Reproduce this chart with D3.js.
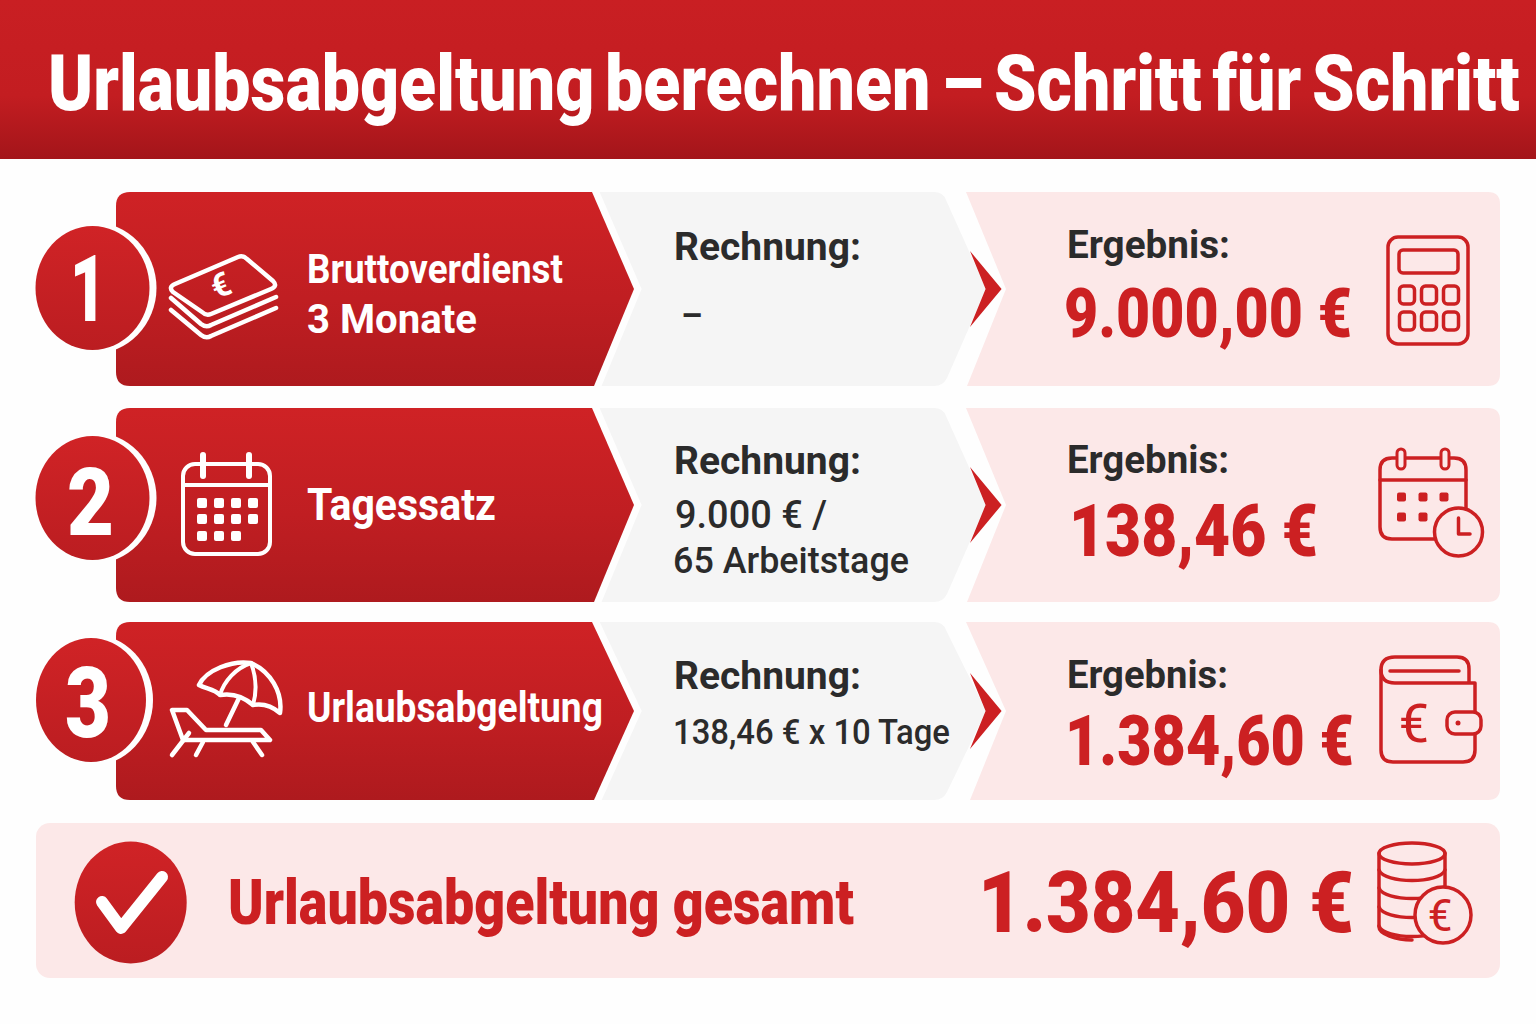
<!DOCTYPE html>
<html lang="de">
<head>
<meta charset="utf-8">
<title>Urlaubsabgeltung berechnen</title>
<script src="https://cdn.jsdelivr.net/npm/d3@7/dist/d3.min.js"></script>
<style>
html, body { margin: 0; padding: 0; background: #fefefe; }
svg { display: block; }
text { font-family: Roboto, "Liberation Sans", sans-serif; }
</style>
</head>
<body>
<div id="chart"></div>
<script>
// content
var titleText = "Urlaubsabgeltung berechnen – Schritt für Schritt";
var stepNumbers = ["1", "2", "3"];
var stepLabels = [["Bruttoverdienst", "3 Monate"], ["Tagessatz"], ["Urlaubsabgeltung"]];
var calcHeading = "Rechnung:";
var calcLines = [["–"], ["9.000 € /", "65 Arbeitstage"], ["138,46 € x 10 Tage"]];
var resultHeading = "Ergebnis:";
var resultValues = ["9.000,00 €", "138,46 €", "1.384,60 €"];
var totalLabel = "Urlaubsabgeltung gesamt";
var totalValue = "1.384,60 €";

// layout
var width = 1536, height = 1024;
var red = "#cc2022", dark = "#2b2b2b", pink = "#fce8e8", grey = "#f5f5f5";
var rowTop = d3.scaleOrdinal(stepNumbers, [192, 408, 622]);
var rowBottom = d3.scaleOrdinal(stepNumbers, [386, 602, 800]);

var badges = [
    { cx: 92.5, cy: 288, rx: 57, ry: 62, x: 70, w: 36, base: 321, size: 92 },
    { cx: 92.5, cy: 498, rx: 57, ry: 62, x: 67, w: 47, base: 535, size: 94 },
    { cx: 91, cy: 700, rx: 55, ry: 62, x: 65, w: 46, base: 737, size: 98 }
];
var labelPos = [
    [{ x: 307, w: 256, base: 283, size: 40 }, { x: 307, w: 170, base: 333, size: 41 }],
    [{ x: 307, w: 189, base: 520, size: 45 }],
    [{ x: 307, w: 296, base: 722, size: 42 }]
];
var calcHeadPos = [260, 474, 689];
var calcPos = [
    [{ x: 681, w: 22, base: 329, size: 40 }],
    [{ x: 675, w: 152, base: 528, size: 38 }, { x: 673, w: 236, base: 573, size: 36 }],
    [{ x: 673, w: 277, base: 744, size: 35 }]
];
var resultHeadPos = [{ w: 163, base: 258 }, { w: 162, base: 473 }, { w: 161, base: 688 }];
var valuePos = [
    { x: 1064, w: 288, base: 337, size: 69 },
    { x: 1069, w: 249, base: 556, size: 72 },
    { x: 1065, w: 289, base: 765, size: 70 }
];

var svg = d3.select("#chart").append("svg")
    .attr("width", width)
    .attr("height", height)
    .attr("viewBox", "0 0 " + width + " " + height);

var defs = svg.append("defs");

function addGradient(id, stops) {
    var g = defs.append("linearGradient")
        .attr("id", id)
        .attr("x1", 0).attr("y1", 0).attr("x2", 0).attr("y2", 1);
    stops.forEach(function (s) {
        g.append("stop").attr("offset", s[0]).attr("stop-color", s[1]);
    });
}

addGradient("headGrad", [[0, "#c91f23"], [0.6, "#c31d21"], [1, "#a3151a"]]);
addGradient("bandGrad", [[0, "#cf2225"], [0.55, "#c01e22"], [1, "#ae1a1e"]]);
addGradient("badgeGrad", [[0, "#d02326"], [1, "#bb1d21"]]);

// text squeezed to the measured width, the original face is narrower than Roboto
function fitText(parent, str, x, base, w, size, fill, weight, wordGap) {
    var t = parent.append("text")
        .attr("font-size", size)
        .attr("font-weight", weight || 700)
        .attr("fill", fill)
        .attr("word-spacing", wordGap || 0)
        .text(str);
    var natural = t.node().getComputedTextLength();
    t.attr("transform", "translate(" + x + "," + base + ") scale(" + (w / natural) + ",1)");
    return t;
}

function line(g, pts, sw, color, closed) {
    return g.append("path")
        .attr("d", "M" + pts.map(function (p) { return p.join(","); }).join("L") + (closed ? "Z" : ""))
        .attr("fill", "none")
        .attr("stroke", color)
        .attr("stroke-width", sw)
        .attr("stroke-linejoin", "round")
        .attr("stroke-linecap", "round");
}

function outlinePath(g, d, sw, color, fill) {
    return g.append("path")
        .attr("d", d)
        .attr("fill", fill || "none")
        .attr("stroke", color)
        .attr("stroke-width", sw)
        .attr("stroke-linejoin", "round")
        .attr("stroke-linecap", "round");
}

function box(g, x, y, w, h, r, sw, color, fill) {
    return g.append("rect")
        .attr("x", x).attr("y", y)
        .attr("width", w).attr("height", h)
        .attr("rx", r)
        .attr("fill", fill || "none")
        .attr("stroke", sw ? color : "none")
        .attr("stroke-width", sw || 0);
}

// header
svg.append("rect")
    .attr("width", width)
    .attr("height", 159)
    .attr("fill", "url(#headGrad)");
fitText(svg, titleText, 48, 110, 1472, 77, "#ffffff", 900, -7);

// rows
stepNumbers.forEach(function (step, i) {
    var top = rowTop(step),
        bottom = rowBottom(step),
        mid = (top + bottom) / 2,
        g = svg.append("g").attr("class", "row row-" + step);

    // result panel
    g.append("path")
        .attr("d", "M966," + top + "H1488Q1500," + top + " 1500," + (top + 12) +
            "V" + (bottom - 12) + "Q1500," + bottom + " 1488," + bottom +
            "H" + (i === 2 ? 970 : 967) + "L1006," + mid + "Z")
        .attr("fill", pink);

    // calculation panel
    g.append("path")
        .attr("d", "M580," + top + "H934Q943," + top + " 946," + (top + 8) +
            "L986," + mid + "L947," + (bottom - 8) + "Q943," + bottom + " 934," + bottom + "H580Z")
        .attr("fill", grey);

    // step band
    g.append("path")
        .attr("d", "M130," + top + "H592L634," + mid + "L594," + bottom + "H130Q116," + bottom + " 116," + (bottom - 14) +
            "V" + (top + 14) + "Q116," + top + " 130," + top + "Z")
        .attr("fill", "url(#bandGrad)")
        .attr("stroke", "#fefefe")
        .attr("stroke-width", 14)
        .style("paint-order", "stroke");

    // arrow between calculation and result
    g.append("path")
        .attr("d", "M970," + (mid - 38) + "L1001.6," + mid + "L970," + (mid + 38) + "L985.6," + mid + "Z")
        .attr("fill", red);

    // number badge
    var b = badges[i];
    g.append("ellipse")
        .attr("cx", b.cx).attr("cy", b.cy)
        .attr("rx", b.rx + 7).attr("ry", b.ry + 4)
        .attr("fill", "#fefefe");
    g.append("ellipse")
        .attr("cx", b.cx).attr("cy", b.cy)
        .attr("rx", b.rx).attr("ry", b.ry)
        .attr("fill", "url(#badgeGrad)");
    fitText(g, step, b.x, b.base, b.w, b.size, "#ffffff", 900);

    // texts
    stepLabels[i].forEach(function (str, j) {
        var p = labelPos[i][j];
        fitText(g, str, p.x, p.base, p.w, p.size, "#ffffff");
    });

    fitText(g, calcHeading, 674, calcHeadPos[i], 187, 38, dark);
    calcLines[i].forEach(function (str, j) {
        var p = calcPos[i][j];
        fitText(g, str, p.x, p.base, p.w, p.size, dark, 500);
    });

    fitText(g, resultHeading, 1067, resultHeadPos[i].base, resultHeadPos[i].w, 38, dark);
    fitText(g, resultValues[i], valuePos[i].x, valuePos[i].base, valuePos[i].w, valuePos[i].size, red, 900);
});

// total panel
box(svg, 36, 823, 1464, 155, 14, 0, "none", pink);
svg.append("ellipse")
    .attr("cx", 130.7).attr("cy", 902.5)
    .attr("rx", 56).attr("ry", 61)
    .attr("fill", "url(#badgeGrad)");
line(svg, [[102, 902], [121, 928], [162, 877]], 12, "#ffffff");
fitText(svg, totalLabel, 228, 924, 626, 63, red, 900);
fitText(svg, totalValue, 978, 932, 376, 86, red, 900);

// icons
function moneyIcon() {
    var g = svg.append("g"), c = "#ffffff";
    outlinePath(g, "M175,284L238,257Q243,255 247,259L273,281Q278,286 271,289L211,314Q206,316 202,312L173,292Q168,287 175,284Z", 4.5, c);
    outlinePath(g, "M171,298L201,324Q206,328 211,325L276,297", 4.5, c);
    outlinePath(g, "M171,310L201,335Q206,339 211,336L276,308", 4.5, c);
    g.append("text")
        .attr("transform", "translate(225,296) rotate(-22)")
        .attr("text-anchor", "middle")
        .attr("font-size", 33)
        .attr("font-weight", 700)
        .attr("fill", c)
        .text("€");
}

function calendarIcon() {
    var g = svg.append("g"), c = "#ffffff";
    box(g, 183, 464, 87, 90, 12, 4, c);
    line(g, [[183, 485], [270, 485]], 4, c);
    line(g, [[203, 455], [203, 476]], 6, c);
    line(g, [[249, 455], [249, 476]], 6, c);
    [503, 519, 536].forEach(function (y, r) {
        [202, 219, 236, 253].forEach(function (x, k) {
            if (r === 2 && k === 3) { return; }
            box(g, x - 5, y - 5, 10, 10, 2, 0, "none", c);
        });
    });
}

function loungerIcon() {
    var g = svg.append("g"), c = "#ffffff";
    outlinePath(g, "M199,685C206,670 232,660 251,663C270,671 283,692 280,713C272,706 264,703 253,705C244,697 232,693 220,695C214,689 206,689 199,685Z", 4.5, c);
    outlinePath(g, "M251,663C236,668 224,681 220,695", 4, c);
    outlinePath(g, "M251,663C256,676 257,691 253,705", 4, c);
    line(g, [[239, 698], [226, 725]], 4.5, c);
    line(g, [[172, 710], [187, 710], [206, 730], [261, 730], [270, 740], [183, 740]], 4.5, c, true);
    line(g, [[189, 733], [172, 755]], 4.5, c);
    line(g, [[203, 742], [196, 755]], 4.5, c);
    line(g, [[253, 742], [262, 755]], 4.5, c);
}

function calculatorIcon() {
    var g = svg.append("g");
    box(g, 1388, 237, 80, 107, 10, 3.5, red);
    box(g, 1399, 250, 59, 23, 4, 3.5, red);
    [295, 321].forEach(function (y) {
        [1407, 1429, 1451].forEach(function (x) {
            box(g, x - 7.5, y - 9, 15, 18, 4, 3.5, red);
        });
    });
}

function calendarClockIcon() {
    var g = svg.append("g");
    outlinePath(g, "M1466,508V470Q1466,458 1454,458H1392Q1380,458 1380,470V527Q1380,539 1392,539H1435", 3.5, red);
    line(g, [[1380, 480], [1466, 480]], 3.5, red);
    box(g, 1397, 449, 8, 20, 4, 3, red, pink);
    box(g, 1441, 449, 8, 20, 4, 3, red, pink);
    [497, 517].forEach(function (y, r) {
        [1401.5, 1423, 1444].forEach(function (x, k) {
            if (r === 1 && k === 2) { return; }
            box(g, x - 4.5, y - 4.5, 9, 9, 2, 0, "none", red);
        });
    });
    g.append("circle")
        .attr("cx", 1458.5).attr("cy", 532).attr("r", 24)
        .attr("fill", pink).attr("stroke", red).attr("stroke-width", 3.5);
    line(g, [[1458.5, 518], [1458.5, 534], [1470, 534]], 3.5, red);
}

function walletIcon() {
    var g = svg.append("g");
    outlinePath(g, "M1381,670V750Q1381,762 1393,762H1463Q1475,762 1475,750V734", 3.5, red);
    outlinePath(g, "M1475,712V683H1395Q1381,683 1381,670Q1381,657 1395,657H1457Q1469,657 1469,669V683", 3.5, red);
    line(g, [[1390, 671], [1459, 671]], 3.5, red);
    box(g, 1447, 712, 34, 22, 8, 3.5, red);
    g.append("circle").attr("cx", 1458).attr("cy", 723).attr("r", 2.5).attr("fill", red);
    g.append("text")
        .attr("x", 1414).attr("y", 742)
        .attr("text-anchor", "middle")
        .attr("font-size", 54)
        .attr("font-weight", 400)
        .attr("fill", red)
        .text("€");
}

function coinsIcon() {
    var g = svg.append("g");
    g.append("ellipse")
        .attr("cx", 1412).attr("cy", 853.5).attr("rx", 33).attr("ry", 10.5)
        .attr("fill", "none").attr("stroke", red).attr("stroke-width", 3.5);
    outlinePath(g, "M1379,853V927C1379,934 1396,940 1412,940M1445,853V900", 3.5, red);
    [870, 888, 907, 926].forEach(function (y) {
        outlinePath(g, "M1379," + y + "C1384," + (y + 14) + " 1440," + (y + 14) + " 1445," + y, 3.5, red);
    });
    g.append("circle")
        .attr("cx", 1443).attr("cy", 915).attr("r", 28)
        .attr("fill", pink).attr("stroke", red).attr("stroke-width", 3.5);
    g.append("text")
        .attr("x", 1440).attr("y", 931)
        .attr("text-anchor", "middle")
        .attr("font-size", 44)
        .attr("font-weight", 400)
        .attr("fill", red)
        .text("€");
}

moneyIcon();
calendarIcon();
loungerIcon();
calculatorIcon();
calendarClockIcon();
walletIcon();
coinsIcon();
</script>
</body>
</html>
